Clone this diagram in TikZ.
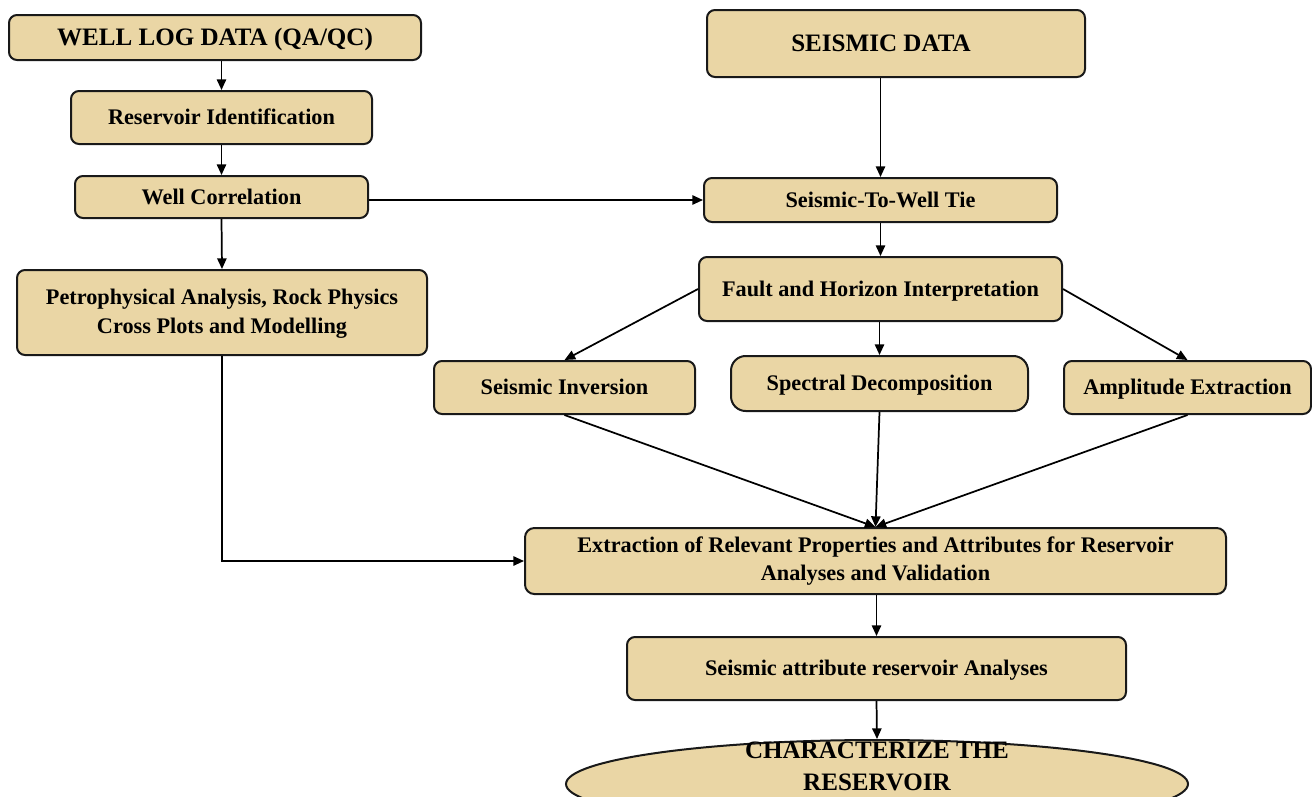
\documentclass[tikz,border=0pt]{standalone}
\usepackage{fontspec}
\setmainfont{Liberation Serif}
\usetikzlibrary{arrows.meta,shapes.geometric}
\definecolor{papyrus}{RGB}{234,214,165}
\definecolor{edge}{RGB}{25,25,25}
\newcommand\bodyfnt{\fontsize{16.7}{21.75}\selectfont\bfseries}
\newcommand\headfnt{\fontsize{18.8}{24}\selectfont\bfseries}
\begin{document}
\begin{tikzpicture}[x=0.75pt,y=-0.75pt,
  sz/.style 2 args={minimum width=#1*0.75pt, minimum height=#2*0.75pt},
  box/.style={draw=edge, line width=1.5pt, fill=papyrus, rounded corners=6pt,
    inner sep=0pt, align=center, font=\bodyfnt},
  single/.style={text height=11pt, text depth=0pt},
  headbox/.style={box, font=\headfnt, text height=12.4pt, text depth=0pt},
  arr/.style={draw=black, line width=1.3pt, -{Triangle[length=8pt,width=7pt]}}
]
\useasboundingbox (0,0) rectangle (1312,796);
\clip (0,0) rectangle (1312,796);

% left column
\node[headbox, sz={412}{45}] (wld) at (215,37.5) {WELL LOG DATA (QA/QC)};
\node[box, single, sz={301}{53}] (rid) at (221.5,117.5) {Reservoir Identification};
\node[box, single, sz={293}{42}] (wcor) at (221.5,197) {Well Correlation};
\node[box, sz={410}{85}] (petro) at (222,312.5) {\rule{0pt}{13pt}Petrophysical Analysis, Rock Physics\\Cross Plots and Modelling};

% right column
\node[headbox, sz={378}{67}] (sd) at (896,43.5) {SEISMIC DATA\hspace*{22.5pt}};
\node[box, single, sz={353}{44}] (stw) at (880.5,200) {Seismic-To-Well Tie};
\node[box, single, sz={363}{64}] (fhi) at (880.5,289) {Fault and Horizon Interpretation};
\node[box, single, sz={261}{53}] (sinv) at (564.5,387.5) {Seismic Inversion};
\node[box, single, sz={297}{55}, rounded corners=11pt] (spec) at (879.5,383.5) {Spectral Decomposition};
\node[box, single, sz={247}{53}] (amp) at (1187.5,387.5) {Amplitude Extraction};

% bottom
\node[box, sz={701}{66}, rounded corners=7pt] (ext) at (875.5,561) {Extraction of Relevant Properties and Attributes for Reservoir\\[-0.75pt]Analyses and Validation};
\node[box, single, sz={499}{63}] (sar) at (876.5,668.5) {Seismic attribute reservoir Analyses};
\node[draw=edge, line width=1.5pt, fill=papyrus, ellipse, inner sep=0pt, sz={622}{88}] (chr) at (877,784) {};
\node[font=\headfnt, align=center, inner sep=0pt] (chrtext) at (877,766) {CHARACTERIZE THE\\RESERVOIR};

% connectors
\draw[arr] (wld.south -| rid.north) -- (rid.north);
\draw[arr] (rid.south) -- (wcor.north);
\draw[arr] (wcor.south) -- (petro.north);
\draw[arr] (wcor.east |- stw.west) -- (stw.west);
\draw[arr] (petro.south) |- (ext.west);

\draw[arr] (sd.south -| stw.north) -- (stw.north);
\draw[arr] (stw.south) -- (fhi.north);
\draw[arr] (fhi.west) -- (sinv.north);
\draw[arr] (fhi.south -| spec.north) -- (spec.north);
\draw[arr] (fhi.east) -- (amp.north);

\draw[arr] (sinv.south) -- (ext.north);
\draw[arr] (spec.south) -- (ext.north);
\draw[arr] (amp.south) -- (ext.north);

\draw[arr] (ext.south -| sar.north) -- (sar.north);
\draw[arr] (sar.south) -- (chr.north);
\end{tikzpicture}
\end{document}
